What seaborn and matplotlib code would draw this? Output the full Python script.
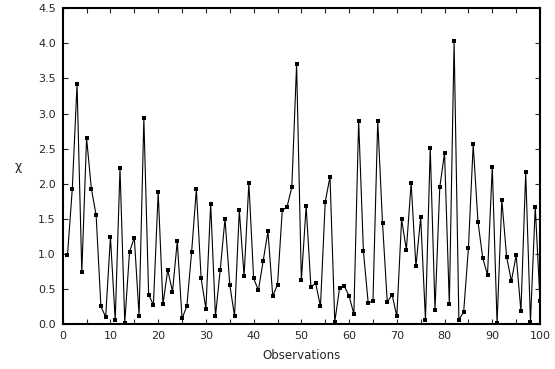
import numpy as np
import pandas as pd
import matplotlib
matplotlib.use('Agg')
import matplotlib.pyplot as plt
import seaborn as sns
from matplotlib.ticker import MultipleLocator, FormatStrFormatter

obs = list(range(1, 101))
chi = [0.98, 1.92, 3.42, 0.74, 2.65, 1.93, 1.55, 0.25, 0.10, 1.24,
       0.05, 2.22, 0.02, 1.03, 1.23, 0.12, 2.93, 0.42, 0.27, 1.88,
       0.28, 0.77, 0.46, 1.18, 0.08, 0.25, 1.02, 1.92, 0.65, 0.22,
       1.71, 0.11, 0.77, 1.50, 0.56, 0.11, 1.62, 0.68, 2.01, 0.65,
       0.48, 0.90, 1.32, 0.40, 0.56, 1.62, 1.67, 1.95, 3.70, 0.62,
       1.68, 0.53, 0.58, 0.25, 1.74, 2.10, 0.03, 0.51, 0.54, 0.40,
       0.14, 2.90, 1.04, 0.30, 0.33, 2.90, 1.44, 0.31, 0.42, 0.11,
       1.49, 1.06, 2.01, 0.82, 1.52, 0.06, 2.51, 0.20, 1.95, 2.44,
       0.28, 4.03, 0.06, 0.17, 1.08, 2.56, 1.46, 0.94, 0.70, 2.24,
       0.01, 1.77, 0.96, 0.61, 0.98, 0.18, 2.16, 0.03, 1.67, 0.33]

df = pd.DataFrame({'Observations': obs, 'chi': chi})

sns.set_style('ticks')
plt.rcParams['font.family'] = ['DejaVu Sans']

fig = plt.figure(figsize=(5.55, 3.69), dpi=100)
ax = fig.add_axes([0.113, 0.122, 0.86, 0.8555])

sns.lineplot(data=df, x='Observations', y='chi', ax=ax, color='black',
             linewidth=0.8, marker='s', markersize=2.6, markeredgewidth=0,
             markerfacecolor='black')

ax.set_xlim(0, 100)
ax.set_ylim(0, 4.5)
ax.xaxis.set_major_locator(MultipleLocator(10))
ax.xaxis.set_minor_locator(MultipleLocator(5))
ax.yaxis.set_major_locator(MultipleLocator(0.5))
ax.yaxis.set_major_formatter(FormatStrFormatter('%.1f'))
ax.tick_params(which='both', direction='in', top=True, right=True,
               length=3.5, width=0.8, labelsize=8, pad=5)
for s in ax.spines.values():
    s.set_linewidth(1.5)
    s.set_color('black')

ax.set_xlabel('Observations', fontsize=8.5, labelpad=6)
ax.set_ylabel('χ', fontsize=9, rotation=0, labelpad=14, va='center')

fig.savefig('out.png', dpi=100)
